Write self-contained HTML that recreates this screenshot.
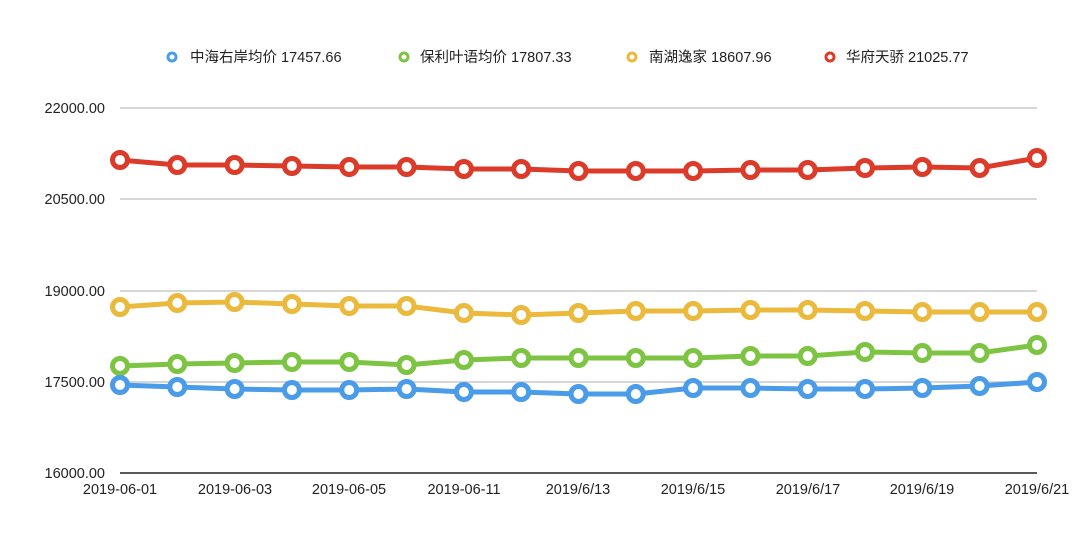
<!DOCTYPE html>
<html><head><meta charset="utf-8"><style>
html,body{margin:0;padding:0;background:#fff;width:1080px;height:535px;overflow:hidden}
text{font-family:"Liberation Sans","Noto Sans CJK SC",sans-serif;fill:#222}
</style></head><body>
<svg width="1080" height="535" xmlns="http://www.w3.org/2000/svg">
<defs>
<marker id="mr" markerUnits="userSpaceOnUse" markerWidth="24" markerHeight="24" refX="12" refY="12" viewBox="0 0 24 24"><circle cx="12" cy="12" r="7.5" fill="#fff" stroke="#dc3b2a" stroke-width="5"/></marker>
<marker id="my" markerUnits="userSpaceOnUse" markerWidth="24" markerHeight="24" refX="12" refY="12" viewBox="0 0 24 24"><circle cx="12" cy="12" r="7.5" fill="#fff" stroke="#ebb93c" stroke-width="5"/></marker>
<marker id="mg" markerUnits="userSpaceOnUse" markerWidth="24" markerHeight="24" refX="12" refY="12" viewBox="0 0 24 24"><circle cx="12" cy="12" r="7.5" fill="#fff" stroke="#7dc443" stroke-width="5"/></marker>
<marker id="mb" markerUnits="userSpaceOnUse" markerWidth="24" markerHeight="24" refX="12" refY="12" viewBox="0 0 24 24"><circle cx="12" cy="12" r="7.5" fill="#fff" stroke="#4a9be8" stroke-width="5"/></marker>
</defs>
<g stroke="#c8c8c8" stroke-width="1.5">
<line x1="120" y1="108" x2="1037" y2="108"/>
<line x1="120" y1="199" x2="1037" y2="199"/>
<line x1="120" y1="291" x2="1037" y2="291"/>
<line x1="120" y1="382" x2="1037" y2="382"/>
</g>
<line x1="120" y1="473" x2="1037" y2="473" stroke="#222" stroke-width="1.5"/>
<g font-size="14.5" text-anchor="end">
<text x="105" y="113">22000.00</text>
<text x="105" y="204">20500.00</text>
<text x="105" y="296">19000.00</text>
<text x="105" y="387">17500.00</text>
<text x="105" y="478">16000.00</text>
</g>
<g font-size="14.5" text-anchor="middle">
<text x="120" y="494">2019-06-01</text>
<text x="235" y="494">2019-06-03</text>
<text x="349" y="494">2019-06-05</text>
<text x="464" y="494">2019-06-11</text>
<text x="578" y="494">2019/6/13</text>
<text x="693" y="494">2019/6/15</text>
<text x="808" y="494">2019/6/17</text>
<text x="922" y="494">2019/6/19</text>
<text x="1037" y="494">2019/6/21</text>
</g>
<g font-size="14.5">
<circle cx="172" cy="57" r="4" fill="#fff" stroke="#4a9be8" stroke-width="3"/>
<text x="190" y="62">中海右岸均价 17457.66</text>
<circle cx="404" cy="57" r="4" fill="#fff" stroke="#7dc443" stroke-width="3"/>
<text x="420" y="62">保利叶语均价 17807.33</text>
<circle cx="632" cy="57" r="4" fill="#fff" stroke="#ebb93c" stroke-width="3"/>
<text x="649" y="62">南湖逸家 18607.96</text>
<circle cx="830" cy="57" r="4" fill="#fff" stroke="#dc3b2a" stroke-width="3"/>
<text x="846" y="62">华府天骄 21025.77</text>
</g>
<g fill="none" stroke-width="5" stroke-linejoin="round">
<polyline stroke="#dc3b2a" marker-start="url(#mr)" marker-mid="url(#mr)" marker-end="url(#mr)" points="120,160 177.3,165 234.6,165 291.9,166 349.2,167 406.6,167 463.9,169 521.2,169 578.5,171 635.8,171 693.1,171 750.4,170 807.7,170 865,168 922.3,167 979.6,168 1037,158"/>
<polyline stroke="#ebb93c" marker-start="url(#my)" marker-mid="url(#my)" marker-end="url(#my)" points="120,307 177.3,303 234.6,302 291.9,304 349.2,306 406.6,306 463.9,313 521.2,315 578.5,313 635.8,311 693.1,311 750.4,310 807.7,310 865,311 922.3,312 979.6,312 1037,312"/>
<polyline stroke="#7dc443" marker-start="url(#mg)" marker-mid="url(#mg)" marker-end="url(#mg)" points="120,366 177.3,364 234.6,363 291.9,362 349.2,362 406.6,365 463.9,360 521.2,358 578.5,358 635.8,358 693.1,358 750.4,356 807.7,356 865,352 922.3,353 979.6,353 1037,345"/>
<polyline stroke="#4a9be8" marker-start="url(#mb)" marker-mid="url(#mb)" marker-end="url(#mb)" points="120,385 177.3,387 234.6,389 291.9,390 349.2,390 406.6,389 463.9,392 521.2,392 578.5,394 635.8,394 693.1,388 750.4,388 807.7,389 865,389 922.3,388 979.6,386 1037,382"/>
</g>
</svg>
</body></html>
